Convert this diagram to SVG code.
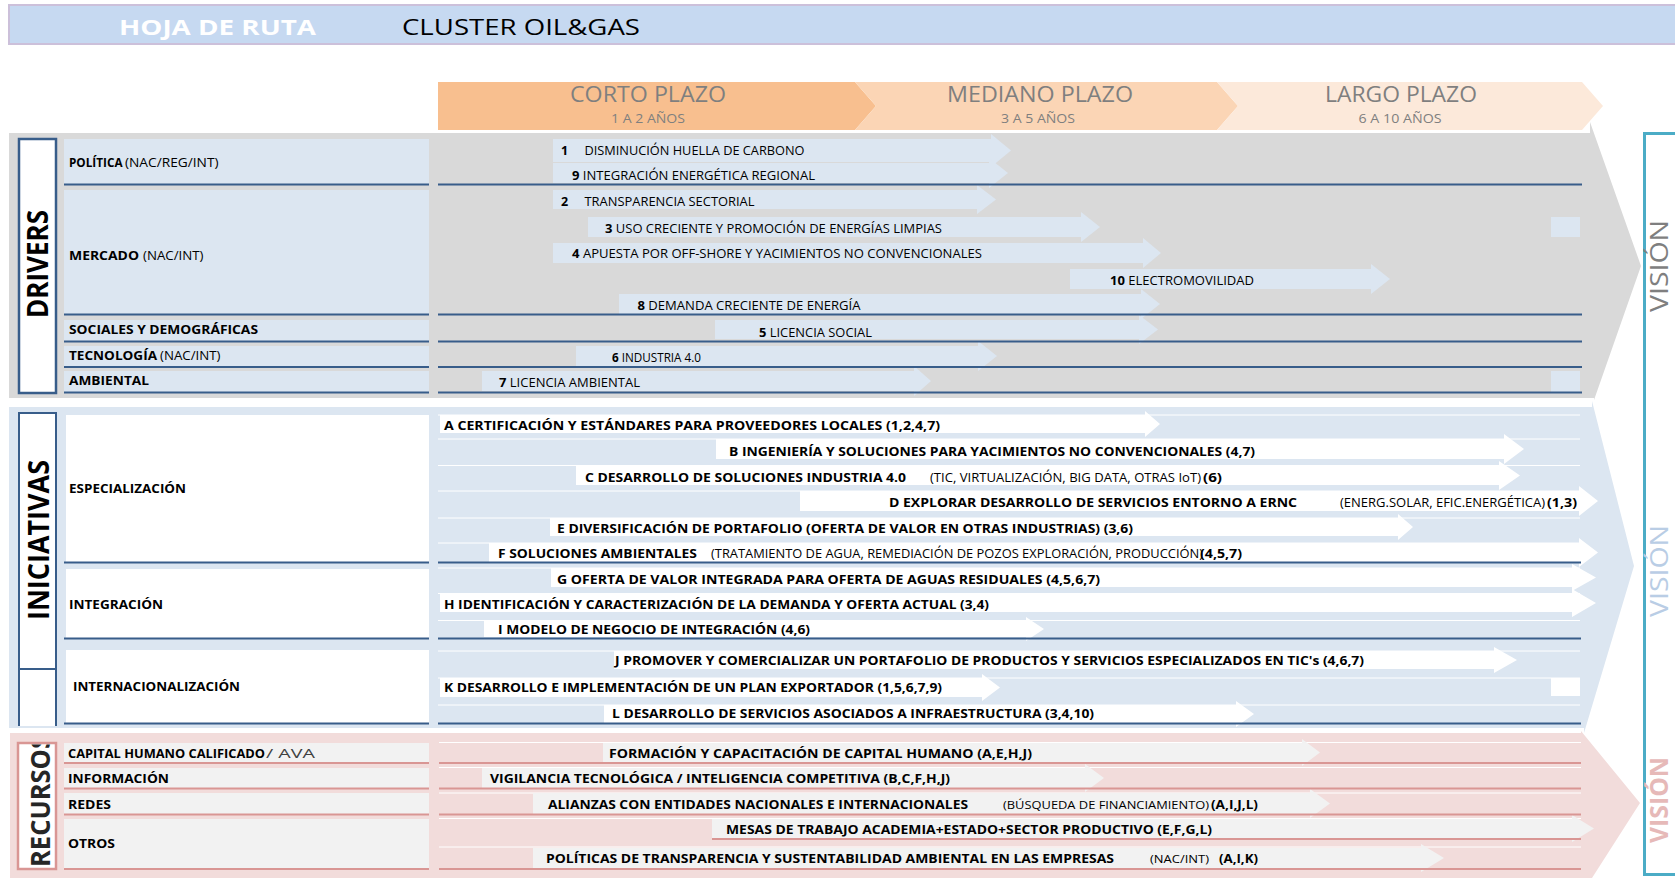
<svg xmlns="http://www.w3.org/2000/svg" width="1675" height="878" viewBox="0 0 1675 878">
<defs>
<style>
text { font-family: "Open Sans", "Liberation Sans", sans-serif; fill: #000000; }
.b { font-weight: 700; }
.r { font-weight: 400; }
.title { font-size: 22px; }
.tl { font-size: 22px; fill: #7F7F7F; }
.tls { font-size: 12px; fill: #7F7F7F; }
.lab { font-size: 13px; }
.t { font-size: 12.5px; }
.ti { font-size: 13px; }
.ts { font-size: 11.5px; }
.side { font-size: 28px; font-weight: 700; }
.vis { font-size: 25px; }
.bar-d { fill: #DCE6F1; }
.bar-i { fill: #FFFFFF; }
.bar-r { fill: #F2F2F2; }
.ln-b { stroke: #385D8A; stroke-width: 2; fill: none; }
.ln-p { stroke: #D99694; stroke-width: 2; fill: none; }
.ln-w { stroke: #FFFFFF; stroke-width: 1; fill: none; }
</style>
<clipPath id="recClip"><rect x="19.5" y="744.5" width="35" height="123"/></clipPath>
</defs>
<rect x="0" y="0" width="1675" height="878" fill="#FFFFFF"/>

<g id="title">
<rect x="9" y="5" width="1672" height="39" fill="#C6D9F1" stroke="#CCC0DA" stroke-width="2"/>
<text x="119" y="35" class="title b" style="fill:#FFFFFF" textLength="197" lengthAdjust="spacingAndGlyphs">HOJA DE RUTA</text>
<text x="402" y="35" class="title" textLength="238" lengthAdjust="spacingAndGlyphs">CLUSTER OIL&amp;GAS</text>
</g>

<g id="timeline">
<g id="corto-plazo">
<polygon points="438,82 855,82 876,106 855,130 438,130" fill="#F8BF8F"/>
<text x="648" y="102" class="tl" text-anchor="middle" textLength="156" lengthAdjust="spacingAndGlyphs">CORTO PLAZO</text>
<text x="648" y="123" class="tls" text-anchor="middle" textLength="74" lengthAdjust="spacingAndGlyphs">1 A 2 AÑOS</text>
</g>
<g id="mediano-plazo">
<polygon points="855,82 1217,82 1238,106 1217,130 855,130 876,106" fill="#FBD5B5"/>
<text x="1040" y="102" class="tl" text-anchor="middle" textLength="186" lengthAdjust="spacingAndGlyphs">MEDIANO PLAZO</text>
<text x="1038" y="123" class="tls" text-anchor="middle" textLength="74" lengthAdjust="spacingAndGlyphs">3 A 5 AÑOS</text>
</g>
<g id="largo-plazo">
<polygon points="1217,82 1582,82 1603,106 1582,130 1217,130 1238,106" fill="#FCE9DA"/>
<text x="1401" y="102" class="tl" text-anchor="middle" textLength="152" lengthAdjust="spacingAndGlyphs">LARGO PLAZO</text>
<text x="1400" y="123" class="tls" text-anchor="middle" textLength="83" lengthAdjust="spacingAndGlyphs">6 A 10 AÑOS</text>
</g>
</g>

<g id="bands">
<polygon id="band-drivers" points="9,133 1590,133 1590,122 1641,266 1594,400 1594,398 9,398" fill="#D9D9D9"/>
<polygon id="band-iniciativas" points="9,407 1592,407 1592,401 1634,566 1584,733 1584,728 9,728" fill="#DCE6F1"/>
<polygon id="band-recursos" points="10,733 1581,733 1581,731 1640,803 1592,878 10,878" fill="#F2DCDB"/>
</g>

<g id="vision">
<rect x="1644.5" y="133.5" width="60" height="741" fill="#FFFFFF" stroke="#4BACC6" stroke-width="3"/>
<text transform="translate(1659,266) rotate(-90)" y="8.9" class="vis" text-anchor="middle" style="fill:#7F7F7F" textLength="92" lengthAdjust="spacingAndGlyphs">VISIÓN</text>
<text transform="translate(1659,571) rotate(-90)" y="8.9" class="vis" text-anchor="middle" style="fill:#B9CDE5" textLength="92" lengthAdjust="spacingAndGlyphs">VISIÓN</text>
<text transform="translate(1659,800) rotate(-90)" y="8.9" class="vis b" text-anchor="middle" style="fill:#E6B9B8" textLength="86" lengthAdjust="spacingAndGlyphs">VISIÓN</text>
</g>

<g id="drivers-label">
<rect x="19" y="139" width="37" height="254" fill="#FFFFFF" stroke="#385D8A" stroke-width="2.5"/>
<text transform="translate(38,264) rotate(-90)" y="9.8" class="side" text-anchor="middle" textLength="108" lengthAdjust="spacingAndGlyphs">DRIVERS</text>
</g>
<g id="iniciativas-label">
<rect x="19" y="413" width="37" height="313" fill="#FFFFFF"/>
<path d="M19,726 V413 H56 V726 M19,669 H56" class="ln-b" stroke-width="2.5"/>
<text transform="translate(38.5,540) rotate(-90)" y="10" class="side" text-anchor="middle" textLength="160" lengthAdjust="spacingAndGlyphs">INICIATIVAS</text>
</g>
<g id="recursos-label">
<rect x="18" y="743" width="38" height="126" fill="#FFFFFF" stroke="#D99694" stroke-width="2.5"/>
<g clip-path="url(#recClip)">
<text transform="translate(40,867) rotate(-90)" y="9.5" style="font-size:26.5px;font-weight:700;fill:#262626" textLength="132" lengthAdjust="spacingAndGlyphs">RECURSOS</text>
</g>
</g>

<g id="drivers-categories">
<g id="cat-politica">
<rect x="64" y="139" width="365" height="45" fill="#DCE6F1"/>
<text x="69" y="167" class="lab b" textLength="53.5" lengthAdjust="spacingAndGlyphs">POLÍTICA</text>
<text x="125" y="167" class="lab" textLength="93.5" lengthAdjust="spacingAndGlyphs">(NAC/REG/INT)</text>
</g>
<g id="cat-mercado">
<rect x="64" y="190" width="365" height="124" fill="#DCE6F1"/>
<text x="69" y="259.5" class="lab b" textLength="70" lengthAdjust="spacingAndGlyphs">MERCADO</text>
<text x="143" y="259.5" class="lab" textLength="60.5" lengthAdjust="spacingAndGlyphs">(NAC/INT)</text>
</g>
<g id="cat-sociales">
<rect x="64" y="320" width="365" height="21" fill="#DCE6F1"/>
<text x="69" y="334" class="lab b" textLength="189" lengthAdjust="spacingAndGlyphs">SOCIALES Y DEMOGRÁFICAS</text>
</g>
<g id="cat-tecnologia">
<rect x="64" y="346" width="365" height="21" fill="#DCE6F1"/>
<text x="69" y="360" class="lab b" textLength="88" lengthAdjust="spacingAndGlyphs">TECNOLOGÍA</text>
<text x="160" y="360" class="lab" textLength="60.5" lengthAdjust="spacingAndGlyphs">(NAC/INT)</text>
</g>
<g id="cat-ambiental">
<rect x="64" y="371" width="365" height="21" fill="#DCE6F1"/>
<text x="69" y="384.5" class="lab b" textLength="80" lengthAdjust="spacingAndGlyphs">AMBIENTAL</text>
</g>
</g>

<g id="iniciativas-categories">
<g id="cat-especializacion">
<rect x="66" y="415" width="363" height="147" fill="#FFFFFF"/>
<text x="69" y="493" class="lab b" textLength="117" lengthAdjust="spacingAndGlyphs">ESPECIALIZACIÓN</text>
</g>
<g id="cat-integracion">
<rect x="66" y="569" width="363" height="69" fill="#FFFFFF"/>
<text x="69" y="609" class="lab b" textLength="94" lengthAdjust="spacingAndGlyphs">INTEGRACIÓN</text>
</g>
<g id="cat-internacionalizacion">
<rect x="66" y="650" width="363" height="73" fill="#FFFFFF"/>
<text x="73" y="691" class="lab b" textLength="167" lengthAdjust="spacingAndGlyphs">INTERNACIONALIZACIÓN</text>
</g>
</g>

<g id="recursos-categories">
<g id="cat-capital">
<rect x="64" y="743" width="365" height="19" fill="#F2F2F2"/>
<text x="68" y="758" class="lab b" textLength="197" lengthAdjust="spacingAndGlyphs">CAPITAL HUMANO CALIFICADO</text>
<text x="266" y="758" class="lab" style="fill:#404040" textLength="49" lengthAdjust="spacingAndGlyphs">/ AVA</text>
</g>
<g id="cat-informacion">
<rect x="64" y="768" width="365" height="20" fill="#F2F2F2"/>
<text x="68" y="783" class="lab b" textLength="101" lengthAdjust="spacingAndGlyphs">INFORMACIÓN</text>
</g>
<g id="cat-redes">
<rect x="64" y="793" width="365" height="21" fill="#F2F2F2"/>
<text x="68" y="809" class="lab b" textLength="43" lengthAdjust="spacingAndGlyphs">REDES</text>
</g>
<g id="cat-otros">
<rect x="64" y="819" width="365" height="49" fill="#F2F2F2"/>
<text x="68" y="848" class="lab b" textLength="47" lengthAdjust="spacingAndGlyphs">OTROS</text>
</g>
</g>

<g id="row-borders">
<path class="ln-w" d="M438,415 H1580 M438,439 H1580 M438,465.5 H1580 M438,491 H1580 M438,518 H1580 M438,543 H1580 M438,568 H1580 M438,593.5 H1580 M438,620.5 H1580 M438,651 H1580 M438,678 H1580 M438,705 H1580"/>
<path class="ln-w" d="M439,742.5 H1581 M439,767.5 H1581 M439,793 H1581 M439,818.5 H1581 M439,847 H1581"/>
<rect x="1551" y="217" width="29" height="20" fill="#DCE6F1"/>
<rect x="1551" y="371" width="29" height="21" fill="#DCE6F1"/>
<rect x="1551" y="678" width="29" height="18" fill="#FFFFFF"/>
</g>

<g id="drivers-arrows">
<g id="d1"><path class="bar-d" d="M553,139 H991 V134 L1011,150.5 L991,167 V162 H553 Z"/></g>
<g id="d9"><path class="bar-d" d="M553,163 H989 V158 L1008,173 L989,188 V183 H553 Z"/></g>
<g id="d2"><path class="bar-d" d="M553,190 H977 V185 L996,199.5 L977,214 V209 H553 Z"/></g>
<g id="d3"><path class="bar-d" d="M588,217 H1081 V212 L1100,227 L1081,242 V237 H588 Z"/></g>
<g id="d4"><path class="bar-d" d="M553,243 H1143 V238 L1161,253 L1143,268 V263 H553 Z"/></g>
<g id="d10"><path class="bar-d" d="M1070,269 H1371 V264 L1390,279 L1371,294 V289 H1070 Z"/></g>
<g id="d8"><path class="bar-d" d="M619,294 H1141 V289 L1160,304 L1141,319 V314 H619 Z"/></g>
<g id="d5"><path class="bar-d" d="M715,320 H1139 V315 L1158,329.5 L1139,344 V339 H715 Z"/></g>
<g id="d6"><path class="bar-d" d="M576,346 H978 V341 L997,356 L978,371 V366 H576 Z"/></g>
<g id="d7"><path class="bar-d" d="M482,371 H914 V366 L931,381 L914,396 V391 H482 Z"/></g>
</g>

<g id="iniciativas-arrows">
<g id="iA"><path class="bar-i" d="M440,415 H1145 V411 L1160,424 L1145,437 V433 H440 Z"/></g>
<g id="iB"><path class="bar-i" d="M716,439 H1504 V434 L1524,449 L1504,464 V459 H716 Z"/></g>
<g id="iC"><path class="bar-i" d="M576,466 H1499 V461 L1520,475.5 L1499,490 V485 H576 Z"/></g>
<g id="iD"><path class="bar-i" d="M800,491 H1579 V486 L1598,501 L1579,516 V511 H800 Z"/></g>
<g id="iE"><path class="bar-i" d="M550,518 H1398 V514 L1413,527 L1398,540 V536 H550 Z"/></g>
<g id="iF"><path class="bar-i" d="M489,543 H1579 V538 L1598,552.5 L1579,567 V562 H489 Z"/></g>
<g id="iG"><path class="bar-i" d="M551,568 H1572 V564 L1596,577.5 L1572,591 V587 H551 Z"/></g>
<g id="iH"><path class="bar-i" d="M440,594 H1572 V589 L1596,603 L1572,617 V612 H440 Z"/></g>
<g id="iI"><path class="bar-i" d="M484,621 H1026 V617 L1044,629 L1026,641 V637 H484 Z"/></g>
<g id="iJ"><path class="bar-i" d="M614,651 H1494 V647 L1517,660 L1494,673 V669 H614 Z"/></g>
<g id="iK"><path class="bar-i" d="M440,678 H982 V674 L1000,687.5 L982,701 V697 H440 Z"/></g>
<g id="iL"><path class="bar-i" d="M604,705 H1236 V701 L1254,714 L1236,727 V723 H604 Z"/></g>
</g>

<g id="recursos-arrows">
<g id="rFormacion"><path class="bar-r" d="M603,743 H1302 V739 L1320,752.5 L1302,766 V762 H603 Z"/></g>
<g id="rVigilancia"><path class="bar-r" d="M482,768 H1085 V764 L1104,778 L1085,792 V788 H482 Z"/></g>
<g id="rAlianzas"><path class="bar-r" d="M533,793 H1310 V789 L1330,803.5 L1310,818 V814 H533 Z"/></g>
<g id="rMesas"><path class="bar-r" d="M712,819 H1572 V815 L1594,828.5 L1572,842 V838 H712 Z"/></g>
<g id="rPoliticas"><path class="bar-r" d="M533,848 H1421 V844 L1444,858 L1421,872 V868 H533 Z"/></g>
</g>

<g id="grid">
<path class="ln-b" d="M64,184.5 H429 M438,184.5 H1582 M64,314.5 H429 M438,314.5 H1582 M64,341.5 H429 M438,341.5 H1582 M64,367 H429 M438,367 H1582 M64,392.5 H429 M438,392.5 H1582"/>
<path class="ln-b" d="M64,562.5 H429 M438,562.5 H1581 M64,638.5 H429 M438,638.5 H1581 M64,723.5 H429 M438,723.5 H1581"/>
<path class="ln-p" d="M64,763 H429 M439,763 H1581 M64,788.5 H429 M439,788.5 H1581 M64,814.5 H429 M439,814.5 H1581 M712,839 H1581 M64,869 H429 M439,869 H1581"/>
</g>

<g id="drivers-texts">
<text x="561" y="155" class="t b">1</text>
<text x="584.5" y="155" class="t" textLength="220" lengthAdjust="spacingAndGlyphs">DISMINUCIÓN HUELLA DE CARBONO</text>
<text x="572" y="179.5" class="t" textLength="243" lengthAdjust="spacingAndGlyphs"><tspan class="b">9</tspan> INTEGRACIÓN ENERGÉTICA REGIONAL</text>
<text x="561" y="206" class="t b">2</text>
<text x="584.5" y="206" class="t" textLength="170" lengthAdjust="spacingAndGlyphs">TRANSPARENCIA SECTORIAL</text>
<text x="605" y="233" class="t" textLength="337" lengthAdjust="spacingAndGlyphs"><tspan class="b">3</tspan> USO CRECIENTE Y PROMOCIÓN DE ENERGÍAS LIMPIAS</text>
<text x="572" y="258" class="t" textLength="410" lengthAdjust="spacingAndGlyphs"><tspan class="b">4</tspan> APUESTA POR OFF-SHORE Y YACIMIENTOS NO CONVENCIONALES</text>
<text x="1110" y="285" class="t" textLength="144" lengthAdjust="spacingAndGlyphs"><tspan class="b">10</tspan> ELECTROMOVILIDAD</text>
<text x="637.5" y="310" class="t" textLength="223" lengthAdjust="spacingAndGlyphs"><tspan class="b">8</tspan> DEMANDA CRECIENTE DE ENERGÍA</text>
<text x="759" y="336.5" class="t" textLength="113" lengthAdjust="spacingAndGlyphs"><tspan class="b">5</tspan> LICENCIA SOCIAL</text>
<text x="612" y="362" class="t" textLength="89" lengthAdjust="spacingAndGlyphs"><tspan class="b">6</tspan> INDUSTRIA 4.0</text>
<text x="499" y="386.5" class="t" textLength="141" lengthAdjust="spacingAndGlyphs"><tspan class="b">7</tspan> LICENCIA AMBIENTAL</text>
</g>

<g id="iniciativas-texts">
<text x="444" y="430" class="ti b" textLength="496" lengthAdjust="spacingAndGlyphs">A  CERTIFICACIÓN Y ESTÁNDARES PARA PROVEEDORES LOCALES  (1,2,4,7)</text>
<text x="729" y="456" class="ti b" textLength="526" lengthAdjust="spacingAndGlyphs">B  INGENIERÍA Y SOLUCIONES PARA YACIMIENTOS NO CONVENCIONALES (4,7)</text>
<text x="585" y="481.5" class="ti b" textLength="321" lengthAdjust="spacingAndGlyphs">C  DESARROLLO DE SOLUCIONES INDUSTRIA 4.0</text>
<text x="930" y="481.5" class="t" textLength="271" lengthAdjust="spacingAndGlyphs">(TIC, VIRTUALIZACIÓN, BIG DATA, OTRAS IoT)</text>
<text x="1203" y="481.5" class="ti b" textLength="19" lengthAdjust="spacingAndGlyphs">(6)</text>
<text x="889" y="507" class="ti b" textLength="408" lengthAdjust="spacingAndGlyphs">D  EXPLORAR DESARROLLO DE SERVICIOS ENTORNO A  ERNC</text>
<text x="1340" y="507" class="t" textLength="205" lengthAdjust="spacingAndGlyphs">(ENERG.SOLAR, EFIC.ENERGÉTICA)</text>
<text x="1547" y="507" class="ti b" textLength="30" lengthAdjust="spacingAndGlyphs">(1,3)</text>
<text x="557" y="533" class="ti b" textLength="576" lengthAdjust="spacingAndGlyphs">E  DIVERSIFICACIÓN DE PORTAFOLIO (OFERTA DE VALOR EN OTRAS INDUSTRIAS) (3,6)</text>
<text x="498" y="558" class="ti b" textLength="199" lengthAdjust="spacingAndGlyphs">F  SOLUCIONES AMBIENTALES</text>
<text x="711" y="558" class="t" textLength="492" lengthAdjust="spacingAndGlyphs">(TRATAMIENTO DE AGUA, REMEDIACIÓN DE POZOS EXPLORACIÓN, PRODUCCIÓN)</text>
<text x="1200" y="558" class="ti b" textLength="42" lengthAdjust="spacingAndGlyphs">(4,5,7)</text>
<text x="557" y="584" class="ti b" textLength="543" lengthAdjust="spacingAndGlyphs">G OFERTA DE VALOR INTEGRADA PARA OFERTA DE AGUAS RESIDUALES  (4,5,6,7)</text>
<text x="444" y="609" class="ti b" textLength="545" lengthAdjust="spacingAndGlyphs">H IDENTIFICACIÓN Y CARACTERIZACIÓN DE LA DEMANDA Y OFERTA ACTUAL (3,4)</text>
<text x="498" y="634" class="ti b" textLength="312" lengthAdjust="spacingAndGlyphs">I MODELO DE NEGOCIO DE INTEGRACIÓN (4,6)</text>
<text x="615" y="665" class="ti b" textLength="749" lengthAdjust="spacingAndGlyphs">J PROMOVER Y COMERCIALIZAR UN PORTAFOLIO DE PRODUCTOS Y SERVICIOS ESPECIALIZADOS EN TIC's (4,6,7)</text>
<text x="444" y="692" class="ti b" textLength="498" lengthAdjust="spacingAndGlyphs">K DESARROLLO E IMPLEMENTACIÓN DE UN PLAN EXPORTADOR (1,5,6,7,9)</text>
<text x="612" y="718" class="ti b" textLength="482" lengthAdjust="spacingAndGlyphs">L DESARROLLO DE SERVICIOS ASOCIADOS A INFRAESTRUCTURA (3,4,10)</text>
</g>

<g id="recursos-texts">
<text x="609" y="757.5" class="t b" textLength="423" lengthAdjust="spacingAndGlyphs">FORMACIÓN Y CAPACITACIÓN DE CAPITAL HUMANO (A,E,H,J)</text>
<text x="490" y="783" class="t b" textLength="460" lengthAdjust="spacingAndGlyphs">VIGILANCIA TECNOLÓGICA / INTELIGENCIA COMPETITIVA (B,C,F,H,J)</text>
<text x="548" y="808.5" class="t b" textLength="420" lengthAdjust="spacingAndGlyphs">ALIANZAS CON ENTIDADES NACIONALES E INTERNACIONALES</text>
<text x="1003" y="808.5" class="ts" textLength="206" lengthAdjust="spacingAndGlyphs">(BÚSQUEDA DE FINANCIAMIENTO)</text>
<text x="1211" y="808.5" class="t b" textLength="47" lengthAdjust="spacingAndGlyphs">(A,I,J,L)</text>
<text x="726" y="833.5" class="t b" textLength="486" lengthAdjust="spacingAndGlyphs">MESAS DE TRABAJO ACADEMIA+ESTADO+SECTOR PRODUCTIVO (E,F,G,L)</text>
<text x="546" y="863" class="t b" textLength="568" lengthAdjust="spacingAndGlyphs">POLÍTICAS DE TRANSPARENCIA Y SUSTENTABILIDAD AMBIENTAL EN LAS EMPRESAS</text>
<text x="1150" y="863" class="ts" textLength="59" lengthAdjust="spacingAndGlyphs">(NAC/INT)</text>
<text x="1219" y="863" class="t b" textLength="39" lengthAdjust="spacingAndGlyphs">(A,I,K)</text>
</g>
</svg>
